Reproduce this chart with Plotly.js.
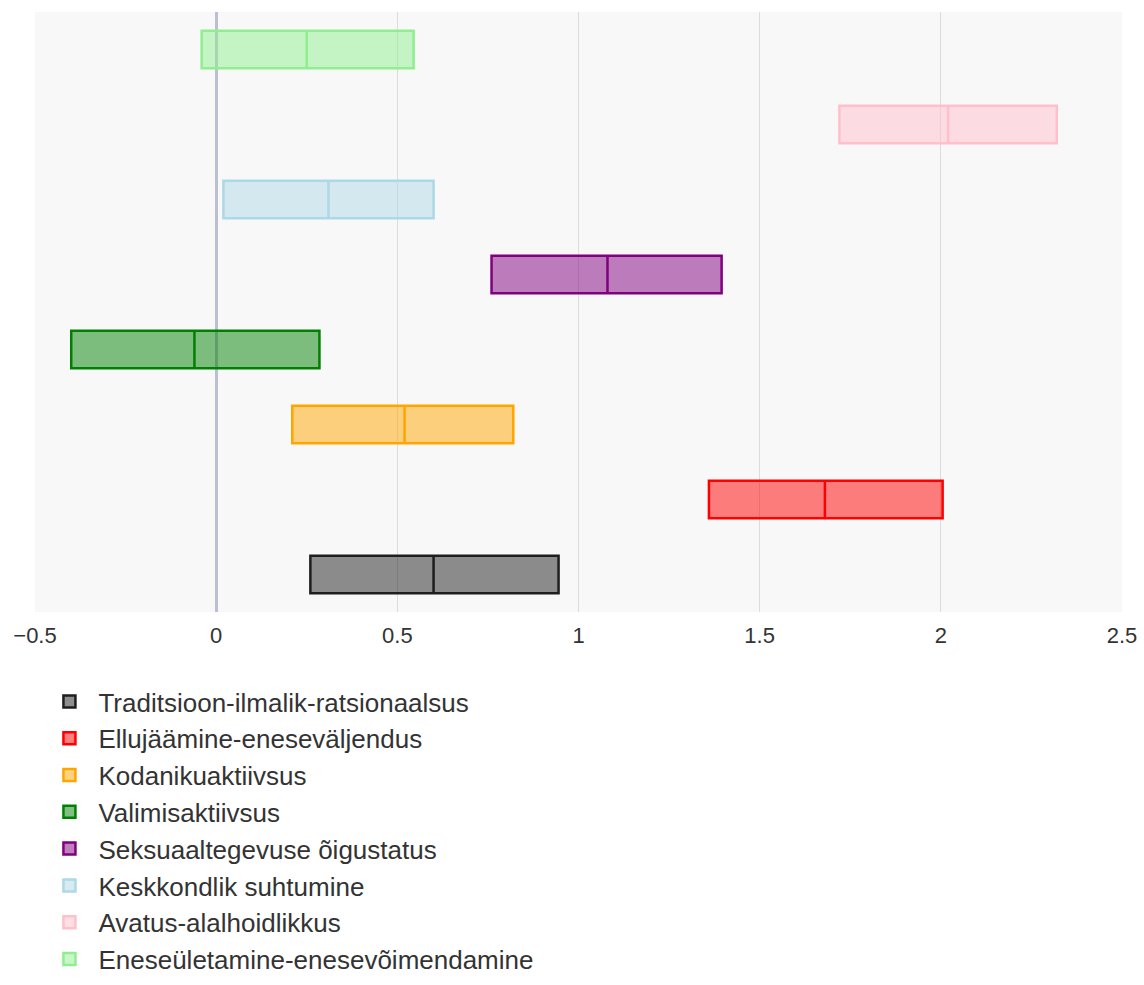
<!DOCTYPE html>
<html>
<head>
<meta charset="utf-8">
<script src="https://cdn.plot.ly/plotly-3.0.1.min.js"></script>
<style>html,body{margin:0;padding:0;background:#fff;}</style>
</head>
<body>
<div id="chart" style="width:1144px;height:985px;"></div>
<script>
const names = [
  "Traditsioon-ilmalik-ratsionaalsus",
  "Ellujäämine-eneseväljendus",
  "Kodanikuaktiivsus",
  "Valimisaktiivsus",
  "Seksuaaltegevuse õigustatus",
  "Keskkondlik suhtumine",
  "Avatus-alalhoidlikkus",
  "Eneseületamine-enesevõimendamine"
];
const q1Values     = [0.26, 1.36, 0.21, -0.40, 0.76, 0.02, 1.72, -0.04];
const medianValues = [0.60, 1.68, 0.52, -0.06, 1.08, 0.31, 2.02, 0.25];
const q3Values     = [0.945, 2.005, 0.82, 0.285, 1.395, 0.60, 2.32, 0.545];
const colors = ["#1e1e1e", "red", "orange", "green", "purple", "lightblue", "pink", "lightgreen"];
const xTicks = [-0.5, 0, 0.5, 1, 1.5, 2, 2.5];

const traces = names.map((n, i) => ({
  type: "box",
  orientation: "h",
  name: n,
  legendgroup: "g" + i,
  y: [n],
  q1: [q1Values[i]],
  median: [medianValues[i]],
  q3: [q3Values[i]],
  lowerfence: [q1Values[i]],
  upperfence: [q3Values[i]],
  line: {color: colors[i], width: 2.5},
  marker: {color: colors[i]},
  whiskerwidth: 0,
  hoverinfo: "x+name"
}));

const layout = {
  width: 1144,
  height: 985,
  margin: {l: 35, r: 22, t: 12, b: 373, autoexpand: false},
  paper_bgcolor: "#ffffff",
  plot_bgcolor: "#f8f8f8",
  font: {family: "Liberation Sans, Arial, sans-serif", size: 22, color: "#333"},
  boxmode: "overlay",
  boxgap: 0.5,
  boxgroupgap: 0,
  showlegend: true,
  legend: {
    orientation: "v",
    x: 0.005, xanchor: "left",
    y: -0.11, yanchor: "top",
    font: {size: 26, color: "#333"},
    tracegroupgap: 7.5,
    itemwidth: 48,
    traceorder: "normal"
  },
  xaxis: {
    range: [-0.5, 2.5],
    tickvals: xTicks,
    ticktext: xTicks.map(v => v < 0 ? "\u2212" + Math.abs(v) : String(v)),
    showgrid: true,
    gridcolor: "#dcdcdc",
    gridwidth: 1,
    zeroline: true,
    zerolinecolor: "#bcbfd2",
    zerolinewidth: 3,
    showline: false,
    ticks: "",
    ticklabelstandoff: 8,
    tickfont: {size: 22, color: "#333"}
  },
  yaxis: {
    type: "category",
    categoryorder: "array",
    categoryarray: names,
    showticklabels: false,
    showgrid: false,
    zeroline: false,
    ticks: ""
  }
};

Plotly.newPlot("chart", traces, layout, {displayModeBar: false, staticPlot: true});
</script>
</body>
</html>
